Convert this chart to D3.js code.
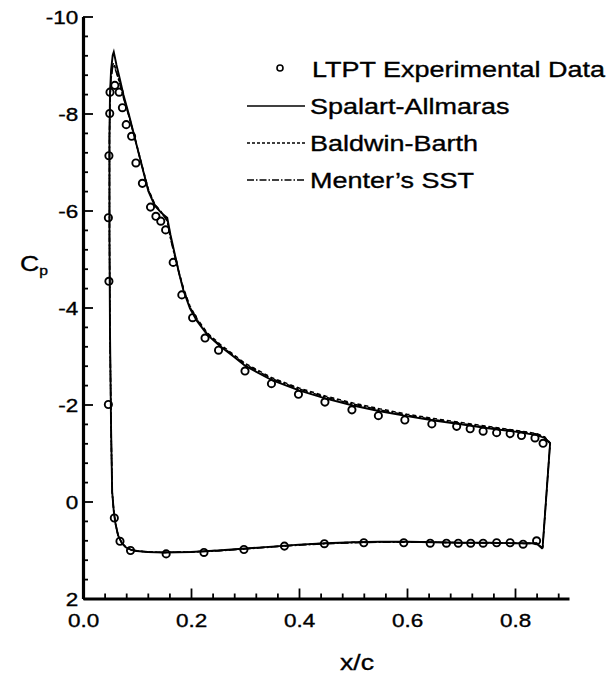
<!DOCTYPE html>
<html>
<head>
<meta charset="utf-8">
<script src="https://cdn.jsdelivr.net/npm/d3@7"></script>
<style>
  body { margin: 0; background: #fff; }
  text { font-family: "Liberation Sans", Arial, Helvetica, sans-serif; fill: #000; stroke: #000; stroke-width: 0.35px; }
</style>
</head>
<body>
<svg id="chart" width="611" height="678"></svg>
<script>
// ---- data (x/c, Cp) ----
var expData = [
  [0.050,-8.44],[0.0495,-8.00],[0.048,-7.13],[0.047,-5.85],[0.048,-4.54],[0.047,-2.00],[0.058,0.34],
  [0.059,-8.58],[0.067,-8.44],[0.073,-8.12],[0.080,-7.77],[0.090,-7.53],[0.098,-6.98],[0.110,-6.56],
  [0.125,-6.07],[0.135,-5.88],[0.144,-5.78],[0.153,-5.60],[0.167,-4.93],[0.183,-4.26],[0.203,-3.79],
  [0.226,-3.37],[0.251,-3.12],[0.300,-2.69],[0.349,-2.43],[0.399,-2.21],[0.448,-2.05],[0.498,-1.89],
  [0.547,-1.77],[0.596,-1.68],[0.646,-1.60],[0.692,-1.55],[0.717,-1.50],[0.741,-1.45],[0.766,-1.42],
  [0.791,-1.40],[0.812,-1.36],[0.837,-1.31],[0.852,-1.20],
  [0.0685,0.82],[0.088,1.01],[0.154,1.08],[0.224,1.05],[0.298,0.99],[0.373,0.92],[0.447,0.87],
  [0.520,0.85],[0.594,0.85],[0.643,0.86],[0.673,0.86],[0.695,0.86],[0.718,0.86],[0.741,0.86],
  [0.766,0.85],[0.791,0.85],[0.815,0.88],[0.840,0.81]
];

var spalartAllmaras = [
  [0.851,0.97],[0.840,0.86],[0.80,0.86],[0.75,0.85],[0.70,0.85],[0.65,0.84],[0.60,0.83],[0.55,0.83],
  [0.50,0.84],[0.45,0.86],[0.40,0.89],[0.35,0.93],[0.30,0.97],[0.25,1.01],[0.20,1.04],[0.15,1.05],
  [0.12,1.04],[0.10,1.02],[0.09,1.00],[0.08,0.95],[0.072,0.86],[0.065,0.70],[0.060,0.45],[0.057,0.20],
  [0.054,-0.20],[0.052,-1.5],[0.050,-3.5],[0.049,-5.5],[0.049,-7.5],[0.050,-8.4],[0.052,-8.9],
  [0.055,-9.2],[0.057,-9.27],[0.062,-9.00],[0.068,-8.72],[0.075,-8.38],[0.085,-7.98],[0.097,-7.45],
  [0.110,-6.88],[0.121,-6.40],[0.133,-6.10],[0.145,-5.95],[0.156,-5.85],[0.162,-5.50],[0.170,-5.10],
  [0.178,-4.70],[0.186,-4.35],[0.198,-3.98],[0.211,-3.72],[0.230,-3.44],[0.254,-3.20],[0.28,-2.98],
  [0.30,-2.80],[0.35,-2.50],[0.40,-2.29],[0.45,-2.12],[0.50,-1.98],[0.55,-1.86],[0.60,-1.76],
  [0.65,-1.67],[0.70,-1.59],[0.75,-1.51],[0.80,-1.44],[0.84,-1.37],[0.855,-1.31],[0.865,-1.20],
  [0.851,0.97]
];

var baldwinBarth = [
  [0.851,0.96],[0.840,0.86],[0.80,0.86],[0.75,0.85],[0.70,0.85],[0.65,0.84],[0.60,0.83],[0.55,0.83],
  [0.50,0.84],[0.45,0.86],[0.40,0.89],[0.35,0.93],[0.30,0.97],[0.25,1.01],[0.20,1.04],[0.15,1.05],
  [0.12,1.04],[0.10,1.02],[0.09,1.00],[0.08,0.95],[0.072,0.86],[0.065,0.70],[0.060,0.45],[0.057,0.20],
  [0.054,-0.20],[0.052,-1.5],[0.050,-3.5],[0.049,-5.5],[0.049,-7.5],[0.050,-8.3],[0.052,-8.75],
  [0.055,-9.00],[0.057,-9.05],[0.062,-8.86],[0.068,-8.64],[0.075,-8.34],[0.085,-7.96],[0.097,-7.46],
  [0.110,-6.90],[0.121,-6.44],[0.133,-6.13],[0.145,-5.97],[0.156,-5.80],[0.162,-5.45],[0.170,-5.08],
  [0.178,-4.72],[0.186,-4.40],[0.198,-4.03],[0.211,-3.77],[0.230,-3.48],[0.254,-3.24],[0.28,-3.02],
  [0.30,-2.85],[0.35,-2.55],[0.40,-2.34],[0.45,-2.17],[0.50,-2.03],[0.55,-1.91],[0.60,-1.80],
  [0.65,-1.71],[0.70,-1.63],[0.75,-1.55],[0.80,-1.47],[0.84,-1.40],[0.855,-1.33],[0.865,-1.21],
  [0.851,0.96]
];

var mentersSST = [
  [0.851,0.98],[0.840,0.87],[0.80,0.86],[0.75,0.86],[0.70,0.85],[0.65,0.84],[0.60,0.84],[0.55,0.84],
  [0.50,0.85],[0.45,0.87],[0.40,0.90],[0.35,0.94],[0.30,0.98],[0.25,1.02],[0.20,1.04],[0.15,1.05],
  [0.12,1.04],[0.10,1.02],[0.09,1.00],[0.08,0.95],[0.072,0.86],[0.065,0.70],[0.060,0.45],[0.057,0.20],
  [0.054,-0.20],[0.052,-1.5],[0.050,-3.5],[0.049,-5.5],[0.049,-7.5],[0.050,-8.3],[0.052,-8.72],
  [0.055,-8.96],[0.057,-9.00],[0.062,-8.84],[0.068,-8.62],[0.075,-8.32],[0.085,-7.94],[0.097,-7.44],
  [0.110,-6.88],[0.121,-6.42],[0.133,-6.12],[0.145,-5.96],[0.156,-5.78],[0.162,-5.42],[0.170,-5.05],
  [0.178,-4.70],[0.186,-4.38],[0.198,-4.01],[0.211,-3.75],[0.230,-3.46],[0.254,-3.22],[0.28,-3.00],
  [0.30,-2.83],[0.35,-2.53],[0.40,-2.32],[0.45,-2.15],[0.50,-2.01],[0.55,-1.89],[0.60,-1.78],
  [0.65,-1.69],[0.70,-1.61],[0.75,-1.53],[0.80,-1.46],[0.84,-1.39],[0.855,-1.32],[0.865,-1.20],
  [0.851,0.98]
];

var xMajor = [0, 0.2, 0.4, 0.6, 0.8];
var xMinor = [0.04,0.08,0.12,0.16,0.24,0.28,0.32,0.36,0.44,0.48,0.52,0.56,0.64,0.68,0.72,0.76,0.84,0.88];
var yMajor = [-10, -8, -6, -4, -2, 0, 2];
var yMinor = [-9.6,-9.2,-8.8,-8.4,-7.6,-7.2,-6.8,-6.4,-5.6,-5.2,-4.8,-4.4,-3.6,-3.2,-2.8,-2.4,
              -1.6,-1.2,-0.8,-0.4,0.4,0.8,1.2,1.6];

var legendItems = [
  {name: "LTPT Experimental Data", kind: "circle"},
  {name: "Spalart-Allmaras", kind: "solid"},
  {name: "Baldwin-Barth", kind: "dash"},
  {name: "Menter\u2019s SST", kind: "dashdot"}
];

var stretch = "scale(1.21,1)";

var svg = d3.select("#chart");

var x = d3.scaleLinear().domain([0, 0.9]).range([83, 569]);
var y = d3.scaleLinear().domain([-10, 2]).range([16.5, 598.5]);

// --------AXES--------------
var gx = svg.append("g").attr("transform", "translate(0," + y(2) + ")");
gx.call(d3.axisBottom(x).tickValues(xMinor).tickSize(-5).tickSizeOuter(0).tickFormat(""))
  .call(function(g) { g.select(".domain").remove(); });
var gx2 = svg.append("g").attr("transform", "translate(0," + y(2) + ")");
gx2.call(d3.axisBottom(x).tickValues(xMajor).tickSize(-10).tickSizeOuter(0).tickFormat(d3.format(".1f")));
gx2.selectAll("text")
  .attr("y", 28.5).attr("dy", 0)
  .attr("transform", stretch)
  .style("font-size", "18.6px");

var gy = svg.append("g").attr("transform", "translate(" + x(0) + ",0)");
gy.call(d3.axisLeft(y).tickValues(yMinor).tickSize(-5).tickSizeOuter(0).tickFormat(""))
  .call(function(g) { g.select(".domain").remove(); });
var gy2 = svg.append("g").attr("transform", "translate(" + x(0) + ",0)");
gy2.call(d3.axisLeft(y).tickValues(yMajor).tickSize(-10).tickSizeOuter(0).tickPadding(4)
  .tickFormat(function(d) { return d < 0 ? "-" + Math.abs(d) : d; }));
gy2.selectAll("text")
  .attr("dy", "0.4em")
  .attr("transform", stretch)
  .style("font-size", "18.6px");

svg.selectAll(".tick line").attr("stroke", "#000").attr("stroke-width", 1.8);
svg.selectAll(".domain").attr("stroke", "#000").attr("stroke-width", 3.2);

// axis titles
svg.append("text")
  .attr("transform", "translate(357,670) " + stretch)
  .attr("text-anchor", "middle")
  .style("font-size", "22px")
  .text("x/c");

var cp = svg.append("text")
  .attr("transform", "translate(20,271) " + stretch)
  .style("font-size", "22px");
cp.append("tspan").text("C");
cp.append("tspan").attr("dy", 4).style("font-size", "13px").text("p");

// --------CURVES--------------
var line = d3.line()
  .x(function(d) { return x(d[0]); })
  .y(function(d) { return y(d[1]); });

svg.append("path").datum(spalartAllmaras)
  .attr("d", line).attr("fill", "none")
  .attr("stroke", "#000").attr("stroke-width", 1.9);
svg.append("path").datum(baldwinBarth)
  .attr("d", line).attr("fill", "none")
  .attr("stroke", "#000").attr("stroke-width", 1.5)
  .attr("stroke-dasharray", "4,3");
svg.append("path").datum(mentersSST)
  .attr("d", line).attr("fill", "none")
  .attr("stroke", "#000").attr("stroke-width", 1.5)
  .attr("stroke-dasharray", "8,2,2,2");

svg.append("g").selectAll("circle")
  .data(expData)
  .enter().append("circle")
  .attr("cx", function(d) { return x(d[0]); })
  .attr("cy", function(d) { return y(d[1]); })
  .attr("r", 3.6)
  .attr("fill", "none")
  .attr("stroke", "#000")
  .attr("stroke-width", 1.9);

// --------LEGEND--------------
var legend = svg.append("g").selectAll("g")
  .data(legendItems)
  .enter().append("g")
  .attr("transform", function(d, i) { return "translate(0," + (69 + i * 37) + ")"; });

legend.each(function(d) {
  var g = d3.select(this);
  if (d.kind == "circle") {
    g.append("circle").attr("cx", 280).attr("cy", -1).attr("r", 3)
      .attr("fill", "none").attr("stroke", "#000").attr("stroke-width", 1.6);
  } else {
    g.append("line").attr("x1", 247).attr("x2", 305).attr("y1", 0).attr("y2", 0)
      .attr("stroke", "#000")
      .attr("stroke-width", d.kind == "solid" ? 1.6 : 1.3)
      .attr("stroke-dasharray", d.kind == "dash" ? "3,2" : (d.kind == "dashdot" ? "7,2,1.5,2" : null));
  }
});

legend.append("text")
  .attr("transform", function(d) { return "translate(" + (d.kind == "circle" ? 312 : 310) + ",8) " + stretch; })
  .style("font-size", "22.3px")
  .text(function(d) { return d.name; });
</script>
</body>
</html>
